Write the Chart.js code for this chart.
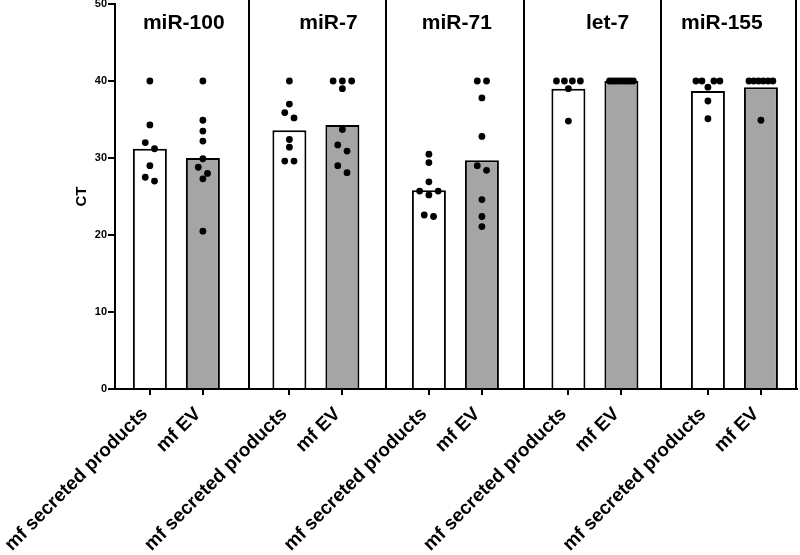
<!DOCTYPE html>
<html>
<head>
<meta charset="utf-8">
<script src="https://cdn.jsdelivr.net/npm/chart.js@4.4.1/dist/chart.umd.min.js"></script>
<style>
html,body{margin:0;padding:0;background:#fff;}
#wrap{width:800px;height:555px;position:relative;}
</style>
</head>
<body>
<div id="wrap"><canvas id="c"></canvas></div>
<script>
// ---- data ----
const groups = ['miR-100', 'miR-7', 'miR-71', 'let-7', 'miR-155'];
const conditions = ['mf secreted products', 'mf EV'];
const barSecreted = [31.2, 33.6, 25.8, 39.0, 38.7];
const barEV = [30.0, 34.3, 29.7, 40.0, 39.2];
const dotsSecreted = [
  [40.0, 34.3, 32.0, 31.2, 29.0, 27.5, 27.0],
  [40.0, 37.0, 35.9, 35.2, 32.4, 31.4, 29.6, 29.6],
  [30.5, 29.4, 26.9, 25.7, 25.7, 25.2, 22.6, 22.4],
  [40.0, 40.0, 40.0, 40.0, 39.0, 34.8],
  [40.0, 40.0, 40.0, 40.0, 39.2, 37.4, 35.1]
];
const dotsEV = [
  [40.0, 34.9, 33.5, 32.2, 29.9, 28.8, 28.0, 27.3, 20.5],
  [40.0, 40.0, 40.0, 39.0, 33.7, 31.7, 30.9, 29.0, 28.1],
  [40.0, 40.0, 37.8, 32.8, 29.0, 28.4, 24.6, 22.4, 21.1],
  [40.0, 40.0, 40.0, 40.0, 40.0, 40.0, 40.0, 40.0, 40.0],
  [40.0, 40.0, 40.0, 40.0, 40.0, 40.0, 34.9]
];
const yTicks = [0, 10, 20, 30, 40, 50];
const yTitle = 'CT';

// ---- layout helpers ----
const PX_X = 140, PX_Y = 7.7;        // approx pixels per unit (for dot spreading)
const EV_OFF = 0.38;                 // EV bar sits right of the secreted bar in each group
const DOT_D = 7, DOT_GAP = 9.3, MAX_W = 24;

function swarm(center, values) {
  const sorted = values.slice().sort((a, b) => b - a);
  const rows = [];
  sorted.forEach(v => {
    const last = rows[rows.length - 1];
    if (last && Math.abs(last[0] - v) * PX_Y < DOT_D) last.push(v); else rows.push([v]);
  });
  const pts = [];
  rows.forEach(row => {
    const n = row.length;
    const step = n > 1 ? Math.min(DOT_GAP, MAX_W / (n - 1)) : 0;
    const slots = [];
    for (let k = 0; k < n; k++) slots.push(k - (n - 1) / 2);
    slots.sort((a, b) => Math.abs(b) - Math.abs(a) || a - b);
    row.forEach((v, i) => pts.push({ x: center + slots[i] * step / PX_X, y: v }));
  });
  return pts;
}

const secPos = groups.map((g, i) => i);
const evPos = groups.map((g, i) => i + EV_OFF);
const tickPos = [], tickLabels = [];
groups.forEach((g, i) => {
  tickPos.push(secPos[i], evPos[i]);
  tickLabels.push(conditions[0], conditions[1]);
});
let dotPoints = [];
groups.forEach((g, i) => {
  dotPoints = dotPoints.concat(swarm(secPos[i], dotsSecreted[i]), swarm(evPos[i], dotsEV[i]));
});

const FONT = 'Arial, "Liberation Sans", Helvetica, sans-serif';

const overlay = {
  id: 'overlay',
  afterDraw(chart, args, opts) {
    const { ctx, chartArea, scales: { x, y } } = chart;
    ctx.save();
    ctx.strokeStyle = '#000';
    ctx.lineWidth = 2;
    opts.dividers.forEach(d => {
      const px = Math.round(x.getPixelForValue(d));
      ctx.beginPath();
      ctx.moveTo(px, 0);
      ctx.lineTo(px, chartArea.bottom);
      ctx.stroke();
    });
    ctx.fillStyle = '#000';
    ctx.font = 'bold 21px ' + FONT;
    ctx.textAlign = 'center';
    ctx.textBaseline = 'middle';
    groups.forEach((g, i) => {
      ctx.fillText(g, x.getPixelForValue(opts.titleX[i]), y.getPixelForValue(opts.titleY));
    });
    ctx.restore();
  }
};

new Chart(document.getElementById('c'), {
  type: 'bar',
  data: {
    datasets: [
      {
        type: 'scatter',
        data: dotPoints,
        pointRadius: 3.4,
        pointHoverRadius: 3.4,
        backgroundColor: '#000',
        borderColor: '#000',
        borderWidth: 0,
        order: 0
      },
      {
        label: conditions[0],
        data: secPos.map((x, i) => ({ x: x, y: barSecreted[i] })),
        backgroundColor: '#ffffff',
        borderColor: '#000',
        borderWidth: 2,
        grouped: false,
        maxBarThickness: 34,
        order: 1
      },
      {
        label: conditions[1],
        data: evPos.map((x, i) => ({ x: x, y: barEV[i] })),
        backgroundColor: '#a5a5a5',
        borderColor: '#000',
        borderWidth: 2,
        grouped: false,
        maxBarThickness: 34,
        order: 1
      }
    ]
  },
  options: {
    responsive: true,
    maintainAspectRatio: false,
    animation: false,
    events: [],
    layout: { padding: { top: 4, right: 1, left: 69, bottom: 0 } },
    plugins: {
      legend: { display: false },
      tooltip: { enabled: false },
      overlay: {
        dividers: [0.707, 1.693, 2.684, 3.666, 4.629],
        titleX: [0.243, 1.28, 2.2, 3.28, 4.1],
        titleY: 47.5
      }
    },
    scales: {
      x: {
        type: 'linear',
        min: -0.25,
        max: 4.6357,
        offset: false,
        grid: { offset: false, drawOnChartArea: false, drawTicks: true, tickLength: 6, color: '#000', lineWidth: 2 },
        border: { color: '#000', width: 2 },
        afterBuildTicks: s => { s.ticks = tickPos.map(v => ({ value: v })); },
        afterFit: s => { s.height = 166; s.paddingLeft = 0; s.paddingRight = 0; },
        ticks: {
          autoSkip: false,
          minRotation: 45,
          maxRotation: 45,
          padding: 8,
          labelOffset: -5,
          color: '#000',
          font: { family: FONT, size: 19, weight: 'bold' },
          callback: (v, i) => tickLabels[i]
        }
      },
      y: {
        min: 0,
        max: 50,
        grid: { drawOnChartArea: false, drawTicks: true, tickLength: 7, color: '#000', lineWidth: 2 },
        border: { color: '#000', width: 2 },
        afterBuildTicks: s => { s.ticks = yTicks.map(v => ({ value: v })); },
        afterFit: s => { s.width = 46; s.paddingTop = 0; s.paddingBottom = 0; },
        ticks: { color: '#000', padding: 1, font: { family: FONT, size: 11, weight: 'bold' } },
        title: { display: true, text: yTitle, color: '#000', font: { family: FONT, size: 15, weight: 'bold' } }
      }
    }
  },
  plugins: [overlay]
});
</script>
</body>
</html>
